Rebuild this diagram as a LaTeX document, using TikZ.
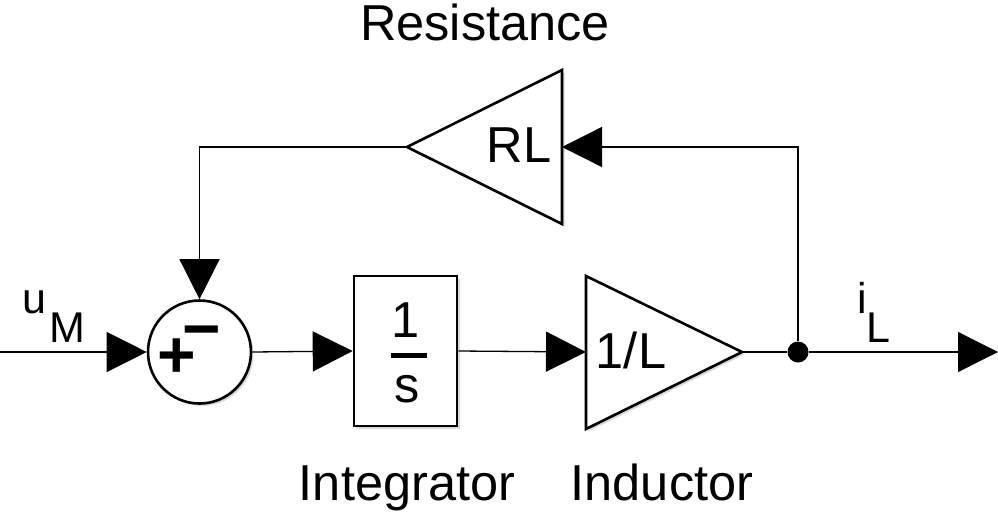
\documentclass[tikz,border=0pt]{standalone}
\usepackage{fontspec}
\setmainfont{Liberation Sans}
\usetikzlibrary{arrows.meta,shadows}
\begin{document}
\begin{tikzpicture}[x=1pt,y=-1pt,
  conn/.style={line width=1.3pt},
  tipend/.style={-{Triangle[length=40pt,width=40pt]}},
  blk/.style={draw,line width=2.6pt,fill=white,
    drop shadow={shadow xshift=2.5pt,shadow yshift=-2.5pt,opacity=0.3}},
  lbl/.style={font=\fontsize{50.5}{60}\selectfont,inner sep=0pt},
  sig/.style={font=\fontsize{43}{50}\selectfont,inner sep=0pt,anchor=base west},
  sgn/.style={font=\fontsize{66}{70}\selectfont\bfseries,inner sep=0pt,anchor=base west},
]
\useasboundingbox (0,0) rectangle (998,517);

% blocks
\node[blk,circle,minimum size=103pt,inner sep=0pt] (sum) at (199.5,352) {};
\node[blk,rectangle,minimum width=103pt,minimum height=150pt,inner sep=0pt] (integ) at (405.5,351) {};
\draw[blk] (586,276) -- (742,352) -- (586,429) -- cycle;
\coordinate (indin) at (586,352);
\coordinate (indout) at (742,352);
\draw[blk] (562,70) -- (407,147) -- (562,224) -- cycle;
\coordinate (rlin) at (562,147);
\coordinate (rlout) at (407,147);
\node[circle,fill,inner sep=0pt,minimum size=21pt] (dot) at (798,352) {};
\coordinate (in) at (0,352);
\coordinate (out) at (998,352);

% connectors
\draw[conn,tipend] (in) -- (sum.west);
\draw[conn,tipend] (sum.east) -- (integ.west);
\draw[conn,tipend] (integ.east) -- (indin);
\draw[conn] (indout) -- (dot);
\draw[conn,tipend] (dot) -- (out);
\draw[conn,tipend] (dot) |- (rlin);
\draw[conn,tipend] (rlout) -| (sum.north);

% texts
\node[lbl,anchor=base] (restxt) at (485,40) {Resistance};
\node[lbl,anchor=base] (inttxt) at (407,500) {Integrator};
\node[lbl,anchor=base] (indtxt) at (662,500) {Inductor};
\node[lbl,anchor=base] (rltxt) at (519,162) {RL};
\node[lbl,anchor=base] (oneL) at (631,368) {1/L};
\node[lbl,anchor=base] (num) at (406,337) {1};
\node[lbl,anchor=base] (den) at (407,402) {s};
\draw[line width=5pt] (391,355) -- (427,355);
\node[sgn] (signs) at (157.7,377) {+\kern-13.5pt\raisebox{26pt}{−}};
\node[sig] (uM) at (22,313) {u\kern3pt\raisebox{-29pt}{M}};
\node[sig] (iL) at (857,313) {i\raisebox{-29pt}{L}};
\end{tikzpicture}
\end{document}
